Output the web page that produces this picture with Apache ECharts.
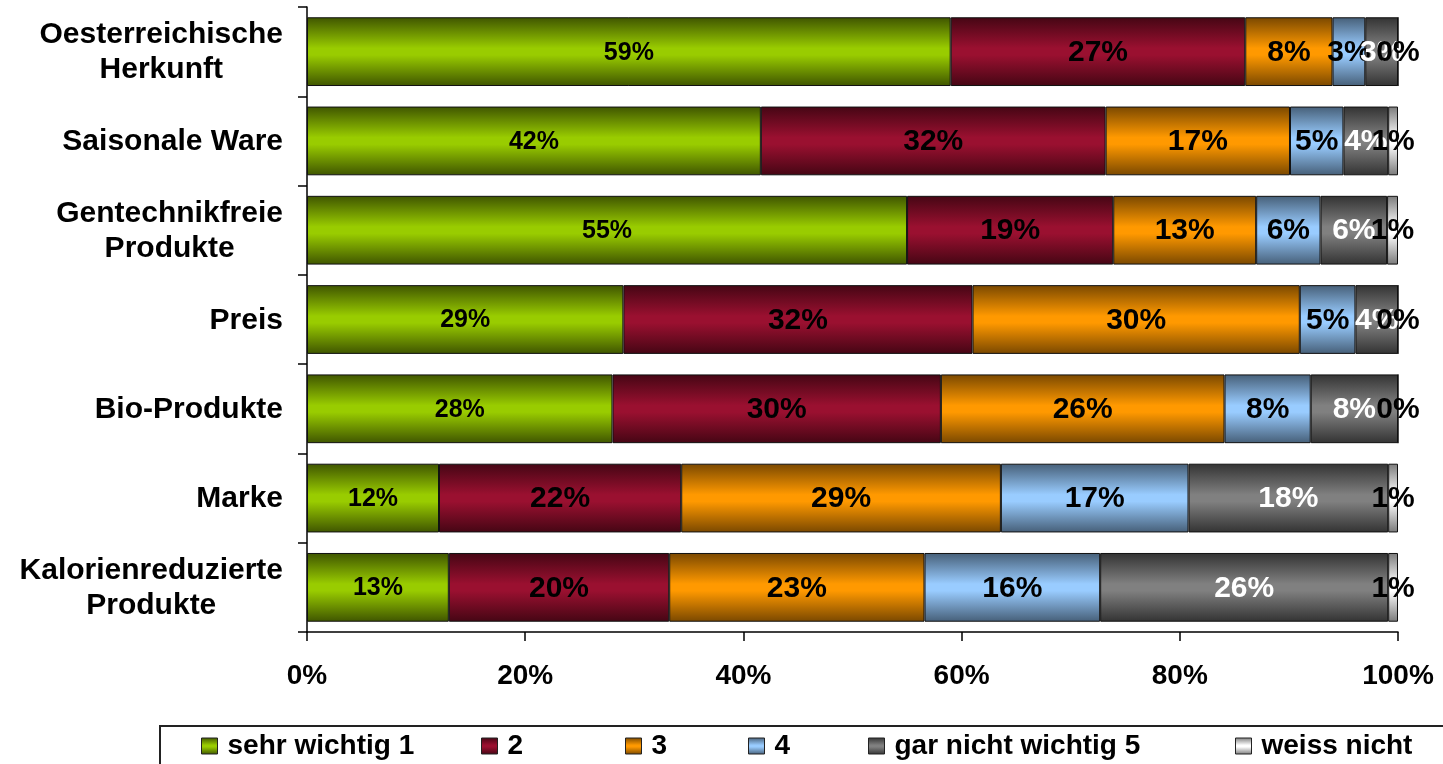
<!DOCTYPE html>
<html>
<head>
<meta charset="utf-8">
<script src="https://cdn.jsdelivr.net/npm/echarts@6/dist/echarts.min.js"></script>
<style>
html,body{margin:0;padding:0;background:#fff;}
#chart{width:1443px;height:764px;}
</style>
</head>
<body>
<div id="chart"></div>
<script>
// ---- data ----
const categories = [
  'Oesterreichische\nHerkunft',
  'Saisonale Ware',
  'Gentechnikfreie\nProdukte',
  'Preis',
  'Bio-Produkte',
  'Marke',
  'Kalorienreduzierte\nProdukte'
];
const seriesNames = ['sehr wichtig 1', '2', '3', '4', 'gar nicht wichtig 5', 'weiss nicht'];
const sehrWichtig1   = [59.0, 41.6, 55.0, 29.0, 28.0, 12.1, 13.0];
const wert2          = [27.0, 31.6, 18.9, 32.0, 30.1, 22.2, 20.2];
const wert3          = [8.0, 16.9, 13.1, 30.0, 26.0, 29.3, 23.4];
const wert4          = [3.0, 4.9, 5.9, 5.1, 7.9, 17.2, 16.1];
const garNichtWichtig5 = [3.0, 4.1, 6.1, 3.9, 8.0, 18.3, 26.4];
const weissNicht     = [0.0, 0.9, 1.0, 0.0, 0.0, 0.9, 0.9];
const xTickLabels = ['0%', '20%', '40%', '60%', '80%', '100%'];

const seriesValues = [sehrWichtig1, wert2, wert3, wert4, garNichtWichtig5, weissNicht];

// ---- styles ----
const FONT = "'Liberation Sans', Arial, Helvetica, sans-serif";
const palette = [
  {base: '#99cc00', dark: '#3f5500'},
  {base: '#9a1030', dark: '#450614'},
  {base: '#ff9900', dark: '#7a4800'},
  {base: '#99ccff', dark: '#465f78'},
  {base: '#808080', dark: '#333333'},
  {base: '#ffffff', dark: '#7a7a7a'}
];
const labelColors = ['#000', '#000', '#000', '#000', '#fff', '#000'];
const labelSizes = [25, 30, 30, 30, 30, 30];

function grad(c) {
  return new echarts.graphic.LinearGradient(0, 0, 0, 1, [
    {offset: 0, color: c.dark},
    {offset: 0.45, color: c.base},
    {offset: 0.55, color: c.base},
    {offset: 1, color: c.dark}
  ]);
}

const series = seriesNames.map((name, i) => ({
  name: name,
  type: 'bar',
  stack: 'total',
  barCategoryGap: '23%',
  data: seriesValues[i],
  itemStyle: {color: grad(palette[i]), borderColor: '#111', borderWidth: 1},
  label: {
    show: true,
    position: 'inside',
    offset: [0, 1],
    formatter: p => Math.round(p.value) + '%',
    color: labelColors[i],
    fontSize: labelSizes[i],
    fontWeight: 'bold',
    fontFamily: FONT,
    textBorderWidth: 0
  },
  emphasis: {disabled: true}
}));

// legend item x positions (icon left edge)
const legendX = [201, 481, 625, 748, 868, 1235];
const legends = seriesNames.map((name, i) => ({
  data: [name],
  left: legendX[i],
  top: 731,
  padding: 0,
  itemWidth: 16,
  itemHeight: 16,
  icon: 'rect',
  selectedMode: false,
  itemStyle: {borderColor: '#222', borderWidth: 1},
  textStyle: {fontSize: 28, fontWeight: 'bold', fontFamily: FONT, color: '#000', lineHeight: 30, padding: [0, 0, 0, 5]}
}));

const chart = echarts.init(document.getElementById('chart'), null, {renderer: 'canvas'});
chart.setOption({
  animation: false,
  backgroundColor: '#fff',
  grid: {left: 307, right: 45, top: 7, bottom: 132, containLabel: false},
  xAxis: {
    type: 'value',
    min: 0, max: 100, interval: 20,
    axisLine: {show: true, lineStyle: {color: '#000', width: 1.5}},
    axisTick: {show: true, length: 9, lineStyle: {color: '#000', width: 1.5}},
    splitLine: {show: false},
    axisLabel: {
      margin: 30,
      formatter: (v) => xTickLabels[Math.round(v / 20)],
      fontSize: 28, fontWeight: 'bold', fontFamily: FONT, color: '#000'
    }
  },
  yAxis: {
    type: 'category',
    data: categories,
    inverse: true,
    axisLine: {show: true, lineStyle: {color: '#000', width: 1.5}},
    axisTick: {show: true, length: 9, lineStyle: {color: '#000', width: 1.5}},
    axisLabel: {
      margin: 24,
      align: 'right',
      formatter: (v) => v.split('\n').map(l => '{c|' + l + '}').join('\n'),
      rich: {
        c: {align: 'center', fontSize: 30, fontWeight: 'bold', fontFamily: FONT, color: '#000', lineHeight: 35, padding: [2, 0, 0, 0]}
      }
    }
  },
  legend: legends,
  graphic: [{
    type: 'rect',
    shape: {x: 160, y: 726, width: 1400, height: 80},
    style: {fill: 'none', stroke: '#222', lineWidth: 2},
    silent: true
  }],
  series: series
});
</script>
</body>
</html>
